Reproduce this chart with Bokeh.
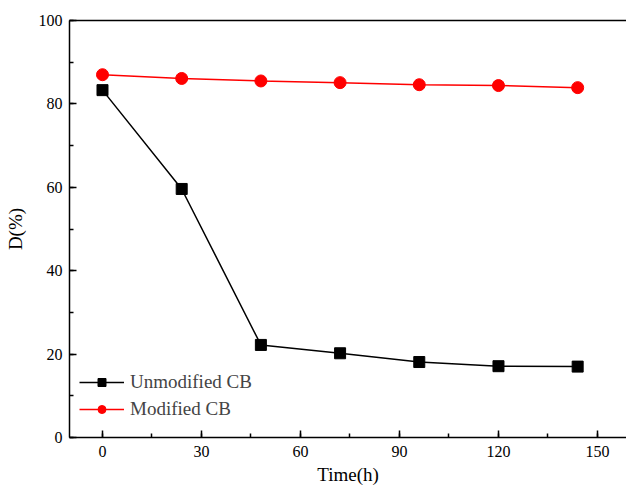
from bokeh.plotting import figure
from bokeh.models import LinearAxis, SingleIntervalTicker, FixedTicker, Range1d, Legend, LegendItem
from bokeh.embed import file_html
from bokeh.resources import INLINE

time_h = [0, 24, 48, 72, 96, 120, 144]
unmodified = [83.3, 59.6, 22.2, 20.2, 18.1, 17.1, 17.0]
modified = [87.0, 86.1, 85.5, 85.1, 84.6, 84.4, 83.9]

FONT = "Liberation Serif"

p = figure(width=626, height=486, output_backend="svg", toolbar_location=None,
           x_range=Range1d(-10, 158.8), y_range=Range1d(0, 100),
           min_border_left=69, min_border_top=20, min_border_right=0, min_border_bottom=49,
           x_axis_label="Time(h)", y_axis_label="D(%)")
p.frame_width = 557
p.frame_height = 417
p.outline_line_color = None
p.grid.visible = False
p.background_fill_color = "white"
p.border_fill_color = "white"

p.xaxis.ticker = SingleIntervalTicker(interval=30, num_minor_ticks=2)
p.yaxis.ticker = SingleIntervalTicker(interval=20, num_minor_ticks=2)
for ax in (p.xaxis[0], p.yaxis[0]):
    ax.major_tick_in = 7
    ax.major_tick_out = 0
    ax.minor_tick_in = 4
    ax.minor_tick_out = 0
    ax.axis_line_width = 1.5
    ax.major_tick_line_width = 1.5
    ax.minor_tick_line_width = 1.5
    ax.major_label_text_font = FONT
    ax.major_label_text_font_size = "16px"
    ax.major_label_text_color = "black"
    ax.axis_label_text_font = FONT
    ax.axis_label_text_font_size = "19px"
    ax.axis_label_text_font_style = "normal"
    ax.axis_label_text_color = "black"
p.xaxis.major_label_standoff = 8
p.xaxis.axis_label_standoff = 4
p.yaxis.major_label_standoff = 7
p.yaxis.axis_label_standoff = 10

top = LinearAxis(ticker=FixedTicker(ticks=[]), axis_line_width=1.5)
top.major_tick_in = 0
top.major_tick_out = 0
top.minor_tick_in = 0
top.minor_tick_out = 0
top.major_label_standoff = 0
p.add_layout(top, "above")

l1 = p.line(time_h, unmodified, line_color="black", line_width=1.5)
m1 = p.scatter(time_h, unmodified, marker="square", size=11, fill_color="black", line_color="black")
l2 = p.line(time_h, modified, line_color="red", line_width=1.5)
m2 = p.scatter(time_h, modified, marker="circle", size=12, fill_color="red", line_color="red")

legend = Legend(items=[LegendItem(label="Unmodified CB", renderers=[l1, m1]),
                       LegendItem(label="Modified CB", renderers=[l2, m2])],
                location=(10, 17), padding=0, margin=0, spacing=5,
                glyph_width=45, glyph_height=20, label_standoff=6,
                label_text_font=FONT, label_text_font_size="19px",
                background_fill_alpha=0, border_line_color=None)
p.add_layout(legend)

open("out.html", "w").write(file_html(p, INLINE))
